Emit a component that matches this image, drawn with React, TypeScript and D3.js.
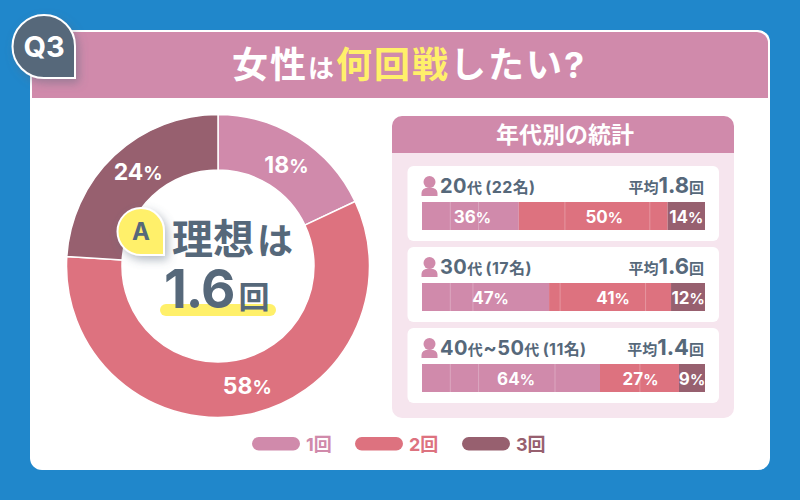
import * as d3 from "d3";

const totalLabels = ["1回", "2回", "3回"];
const totalValues = [18, 58, 24];

const ageGroups = ["20", "30", "40"];
const ageCounts = ["22", "17", "11"];
const ageAverages = ["1.8", "1.6", "1.4"];
// the numbers printed on the bars
const printed = [
  [36, 50, 14],
  [47, 41, 12],
  [64, 27, 9],
];
// the bars in the picture are not quite drawn to the printed numbers
const drawnShares = [
  [34.2, 52.6, 13.2],
  [44.9, 43.1, 12],
  [62.9, 27.9, 9.2],
];
// faint vertical lines inside the bars, in % of bar width
const faintLines = [
  [10, 20, 50.5, 80.5],
  [10, 18, 48.8, 79],
  [10, 20, 47, 77],
];

const PINK = "#d08aab";
const RED = "#dd727f";
const PLUM = "#97606f";
const SLATE = "#56687a";
const YELLOW = "#fff06a";
const colors = [PINK, RED, PLUM];
const FONT = "Inter, 'Noto Sans CJK JP', sans-serif";

const donutX = 218;
const donutY = 266;
const arc = d3.arc<d3.PieArcDatum<number>>().innerRadius(96).outerRadius(151.5);
const labelArc = d3.arc<d3.PieArcDatum<number>>().innerRadius(124).outerRadius(124);
const pie = d3.pie<number>().sort(null)(totalValues);
const donutNudge = [[2, 3], [6, -2], [5, -4]];

const barX = d3.scaleLinear().domain([0, 100]).range([422, 705]);
const rowY = d3.scaleBand<string>().domain(ageGroups).range([166, 409]).paddingInner(0);
const legendX = d3.scalePoint<string>().domain(totalLabels).range([252, 462]);
const legendNudge = [0, -2, 0];
const labelNudge = [[2, 11, 0], [5, 3, 0], [5, 1, 0]];

const App = () => {
  return (
    <svg
      width={800}
      height={500}
      viewBox="0 0 800 500"
      style={{ position: "absolute", left: 0, top: 0 }}
      fontFamily={FONT}
      fontWeight={700}
    >
      <defs>
        <filter id="soft" x="-40%" y="-40%" width="190%" height="190%">
          <feDropShadow dx="3" dy="4" stdDeviation="5" floodColor="#56687a" floodOpacity="0.45" />
        </filter>
      </defs>
      <rect width={800} height={500} fill="#2087cb" />
      <rect x={30} y={30} width={740} height={440} rx={12} fill="#fff" />
      <path d="M32 98V32H757a11 11 0 0 1 11 11V98Z" fill={PINK} />

      <path
        d="M44 15a31 31 0 0 1 31 31V78H44a31.500 31.500 0 0 1 0-63Z"
        fill={SLATE}
        stroke="#fff"
        strokeWidth={2}
        filter="url(#soft)"
      />
      <text x={44} y={57} textAnchor="middle" fontSize={29} fill="#fff">Q3</text>

      <text x={409} y={78} textAnchor="middle" fontSize={36} letterSpacing={2} fill="#fff">
        女性<tspan fontSize={26}>は</tspan>
        <tspan fill={YELLOW}>何回戦</tspan>したい?
      </text>

      <g transform={`translate(${donutX},${donutY})`}>
        {pie.map((d, i) => {
          const [cx, cy] = labelArc.centroid(d);
          return (
            <g key={i}>
              <path d={arc(d) ?? ""} fill={colors[i]} stroke="#fff" strokeWidth={1.5} />
              <text
                x={cx + donutNudge[i][0]}
                y={cy + donutNudge[i][1]}
                dy="0.36em"
                textAnchor="middle"
                fontSize={23}
                fill="#fff"
              >
                {d.data}<tspan fontSize={19}>%</tspan>
              </text>
            </g>
          );
        })}
      </g>

      <path
        d="M141 208a23 23 0 0 1 23 23V255H141a23.500 23.500 0 0 1 0-47Z"
        fill={YELLOW}
        stroke="#fff"
        strokeWidth={2}
        filter="url(#soft)"
      />
      <text x={141} y={240} textAnchor="middle" fontSize={24} fill={SLATE}>A</text>
      <text x={172} y={254} fontSize={41} fill={SLATE}>
        理想<tspan fontSize={36} dx={3}>は</tspan>
      </text>
      <rect x={160} y={304} width={116} height={12} rx={6} fill={YELLOW} />
      <text x={164} y={308} fontSize={53} letterSpacing={-1} fill={SLATE}>
        1.6<tspan fontSize={31} dx={4}>回</tspan>
      </text>

      <path d="M392 153V126a10 10 0 0 1 10-10H724a10 10 0 0 1 10 10V153Z" fill={PINK} />
      <path d="M392 153H734V408a10 10 0 0 1-10 10H402a10 10 0 0 1-10-10Z" fill="#f6e5ee" />
      <text x={565} y={143} textAnchor="middle" fontSize={23} fill="#fff">年代別の統計</text>

      {ageGroups.map((age, r) => {
        const y = rowY(age) ?? 0;
        let acc = 0;
        return (
          <g key={age}>
            <rect x={407.500} y={y} width={311.500} height={75} rx={6} fill="#fff" />
            <circle cx={429.500} cy={y + 16} r={6} fill={PINK} />
            <path
              d={`M421.500 ${y + 30}V${y + 27}a7 5.500 0 0 1 7-5.500h2a7 5.500 0 0 1 7 5.500V${y + 30}Z`}
              fill={PINK}
            />
            <text x={440} y={y + 27} fontSize={20} letterSpacing={0.4} fill={SLATE}>
              {age}
              {r === 2 ? (
                <tspan>
                  <tspan fontSize={15}>代</tspan>~50<tspan fontSize={15}>代</tspan>
                </tspan>
              ) : (
                <tspan fontSize={15}>代</tspan>
              )}
              <tspan fontSize={16} dx={3}>({ageCounts[r]}名)</tspan>
            </text>
            <text x={704} y={y + 27} textAnchor="end" fontSize={22} fill={SLATE}>
              <tspan fontSize={15}>平均</tspan>
              {ageAverages[r]}
              <tspan fontSize={15}>回</tspan>
            </text>
            {drawnShares[r].map((s, i) => {
              const x0 = barX(acc);
              acc += s;
              const x1 = barX(Math.min(acc, 100));
              return (
                <g key={i}>
                  <rect x={x0} y={y + 36} width={x1 - x0} height={28} fill={colors[i]} />
                </g>
              );
            })}
            {faintLines[r].map((v) => (
              <line
                key={v}
                x1={barX(v)}
                x2={barX(v)}
                y1={y + 36}
                y2={y + 64}
                stroke="#fff"
                strokeOpacity={0.25}
              />
            ))}
            {drawnShares[r].map((s, i) => {
              const before = d3.sum(drawnShares[r].slice(0, i));
              return (
                <text
                  key={i}
                  x={barX(before + s / 2) + labelNudge[r][i]}
                  y={y + 57}
                  textAnchor="middle"
                  fontSize={17}
                  fill="#fff"
                >
                  {printed[r][i]}<tspan fontSize={15}>%</tspan>
                </text>
              );
            })}
          </g>
        );
      })}

      {totalLabels.map((label, i) => {
        const x = (legendX(label) ?? 0) + legendNudge[i];
        return (
          <g key={label}>
            <rect x={x} y={437} width={48} height={13.500} rx={6.750} fill={colors[i]} />
            <text x={x + 54} y={451} fontSize={18} fill={colors[i]}>{label}</text>
          </g>
        );
      })}
    </svg>
  );
};

export default App;
